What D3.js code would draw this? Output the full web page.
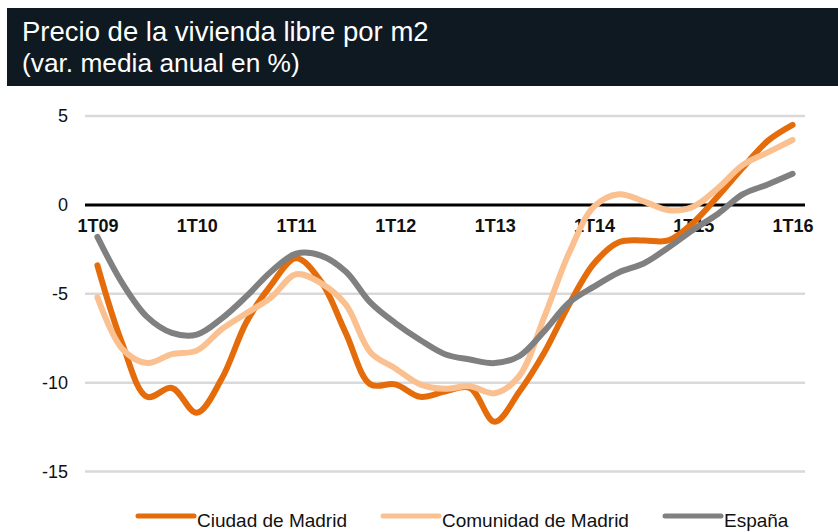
<!DOCTYPE html>
<meta charset="utf-8">
<style>
body { margin: 0; background: #fff; }
svg { font-family: "Liberation Sans", Arial, Helvetica, sans-serif; }
.grid line { stroke: #d9d9d9; stroke-width: 2.5; }
.axis path { display: none; }
.axis--x text { font-size: 18px; font-weight: bold; fill: #111; }
.axis--y text { font-size: 18px; fill: #111; }
.serie { fill: none; stroke-width: 6; stroke-linecap: round; stroke-linejoin: round; }
</style>
<svg width="838" height="532"></svg>
<script src="https://d3js.org/d3.v7.min.js"></script>
<script>

// quarters (1T09 .. 1T16)
var quarters = ["1T09","2T09","3T09","4T09","1T10","2T10","3T10","4T10",
                "1T11","2T11","3T11","4T11","1T12","2T12","3T12","4T12",
                "1T13","2T13","3T13","4T13","1T14","2T14","3T14","4T14",
                "1T15","2T15","3T15","4T15","1T16"];
var xLabels = ["1T09","1T10","1T11","1T12","1T13","1T14","1T15","1T16"];
var yTicks = [5, 0, -5, -10, -15];

var ciudad = [-3.4, -7.8, -10.8, -10.3, -11.7, -9.8, -6.6, -4.5, -3.0, -4.3, -7.2, -10.1, -10.1, -10.8, -10.5,
              -10.3, -12.2, -10.5, -8.3, -5.6, -3.3, -2.1, -2.0, -2.0, -1.0, 0.5, 2.1, 3.6, 4.5];
var comunidad = [-5.2, -8.1, -8.9, -8.4, -8.2, -7.0, -6.1, -5.2, -3.9, -4.4, -5.6, -8.3, -9.2, -10.1, -10.35,
                 -10.2, -10.6, -9.6, -6.3, -2.7, -0.1, 0.6, 0.2, -0.3, -0.1, 0.95, 2.25, 2.95, 3.65];
var espana = [-1.8, -4.4, -6.3, -7.2, -7.3, -6.4, -5.15, -3.75, -2.75, -2.85, -3.75, -5.5, -6.65, -7.6, -8.4,
              -8.7, -8.9, -8.5, -7.1, -5.5, -4.6, -3.8, -3.3, -2.4, -1.4, -0.5, 0.6, 1.15, 1.75];

var series = [
  {name: "Ciudad de Madrid", values: ciudad, color: "#e46c0a"},
  {name: "Comunidad de Madrid", values: comunidad, color: "#fac090"},
  {name: "España", values: espana, color: "#808080"}
];

var svg = d3.select("svg");

/* header band */
svg.append("rect")
    .attr("x", 7).attr("y", 8)
    .attr("width", 831).attr("height", 78)
    .attr("fill", "#0f1921");

svg.append("text")
    .attr("x", 22).attr("y", 41)
    .style("font-size", "27.5px")
    .style("fill", "#fff")
    .text("Precio de la vivienda libre por m2");

svg.append("text")
    .attr("x", 22).attr("y", 72)
    .style("font-size", "26.3px")
    .style("fill", "#fff")
    .text("(var. media anual en %)");

/* scales */
var x = d3.scalePoint().domain(quarters).range([85, 805]).padding(0.5),
    y = d3.scaleLinear().domain([-15, 5]).range([471.5, 116]);

/* gridlines */
svg.append("g")
    .attr("class", "grid")
  .selectAll("line")
  .data(yTicks.filter(function(d) { return d !== 0; }))
  .enter().append("line")
    .attr("x1", 85).attr("x2", 805)
    .attr("y1", function(d) { return y(d); })
    .attr("y2", function(d) { return y(d); });

svg.append("g")
    .attr("class", "axis axis--y")
    .attr("transform", "translate(85,0)")
    .call(d3.axisLeft(y).tickValues(yTicks).tickSize(0).tickPadding(17).tickFormat(d3.format("d")))
    .selectAll("text").text(function(d) { return d < 0 ? "-" + Math.abs(d) : d; });

/* zero line */
svg.append("line")
    .attr("x1", 85).attr("x2", 805)
    .attr("y1", y(0)).attr("y2", y(0))
    .attr("stroke", "#000").attr("stroke-width", 3);

svg.append("g")
    .attr("class", "axis axis--x")
    .attr("transform", "translate(0," + y(0) + ")")
    .call(d3.axisBottom(x).tickValues(xLabels).tickSize(0).tickPadding(14));

/* lines */
var line = d3.line()
    .x(function(d, i) { return x(quarters[i]); })
    .y(function(d) { return y(d); })
    .curve(d3.curveCatmullRom.alpha(0.5));

svg.selectAll(".serie")
  .data(series)
  .enter().append("path")
    .attr("class", "serie")
    .attr("stroke", function(d) { return d.color; })
    .attr("d", function(d) { return line(d.values); });

/* legend */
var legendX = [138, 383, 665];
var lg = svg.selectAll(".legend")
  .data(series)
  .enter().append("g")
    .attr("class", "legend")
    .attr("transform", function(d, i) { return "translate(" + legendX[i] + ",516)"; });

lg.append("line")
    .attr("x1", 0).attr("x2", 56)
    .attr("stroke", function(d) { return d.color; })
    .attr("stroke-width", 5)
    .attr("stroke-linecap", "round");

lg.append("text")
    .attr("x", 59).attr("y", 10.5)
    .style("font-size", "19px")
    .style("fill", "#111")
    .text(function(d) { return d.name; });

</script>
